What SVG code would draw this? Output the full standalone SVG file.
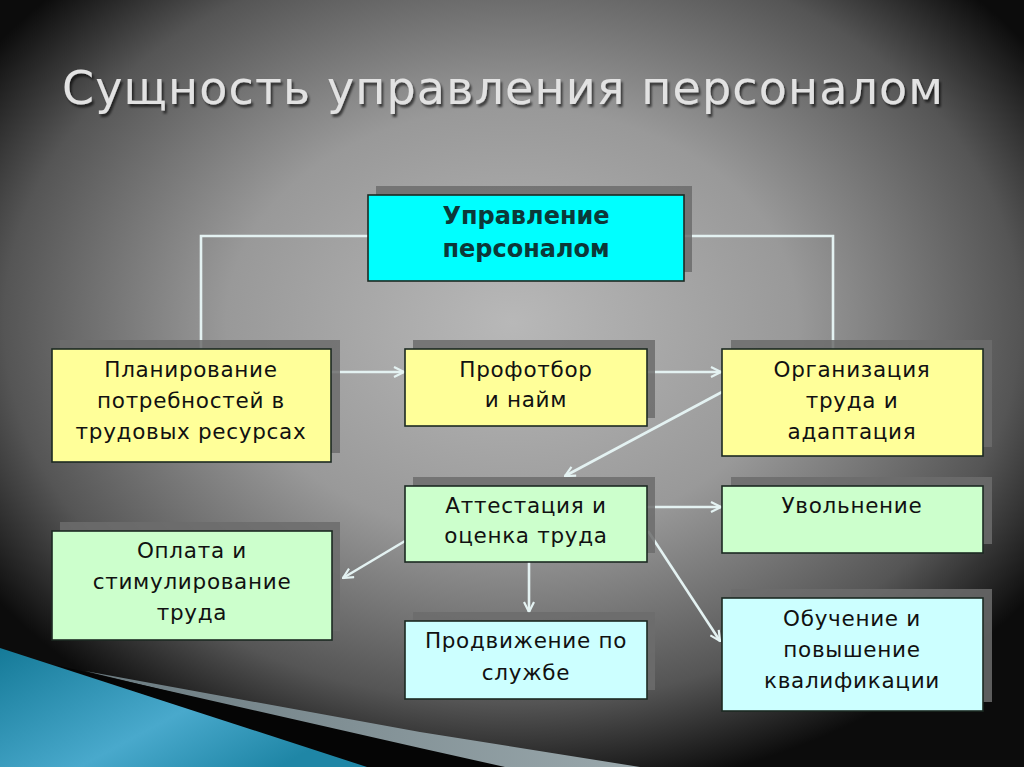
<svg xmlns="http://www.w3.org/2000/svg" width="1024" height="767" viewBox="0 0 1024 767">
<defs>
<radialGradient id="bg" cx="0.5" cy="0.42" r="0.62">
<stop offset="0" stop-color="#b8b8b8"/>
<stop offset="0.45" stop-color="#999"/>
<stop offset="0.8" stop-color="#555"/>
<stop offset="1" stop-color="#0c0c0c"/>
</radialGradient>
<linearGradient id="teal" x1="0" y1="0" x2="1" y2="0.6">
<stop offset="0" stop-color="#157a98"/>
<stop offset="0.6" stop-color="#49a9cc"/>
<stop offset="1" stop-color="#1f86a6"/>
</linearGradient>
<linearGradient id="band" x1="0" y1="0" x2="1" y2="0">
<stop offset="0" stop-color="#6a7a80"/>
<stop offset="1" stop-color="#9aa8ac"/>
</linearGradient>
<filter id="ts" x="-5%" y="-20%" width="110%" height="150%">
<feDropShadow dx="2" dy="3" stdDeviation="1.2" flood-color="#000" flood-opacity="0.6"/>
</filter>
<marker id="ar" viewBox="0 0 12 12" refX="11" refY="6" markerWidth="12" markerHeight="12" markerUnits="userSpaceOnUse" orient="auto">
<polyline points="1,1 11,6 1,11" fill="none" stroke="#e4f2f2" stroke-width="2.2"/>
</marker>
<style>
.sh{fill:#6c6c6c;opacity:0.85}
.bx{stroke:#1c2a22;stroke-width:1.6}
.y{fill:#ffff99}.g{fill:#ccffcc}.c{fill:#ccffff}.cy{fill:#00ffff}
.t{font-family:"DejaVu Sans","Liberation Sans",sans-serif;font-size:21.5px;fill:#111;text-anchor:middle;letter-spacing:0.7px}
.tb{font-family:"DejaVu Sans","Liberation Sans",sans-serif;font-size:24px;font-weight:bold;fill:#0c3838;text-anchor:middle}
.ln{fill:none;stroke:#e4f2f2;stroke-width:2.6}
.title{font-family:"DejaVu Sans","Liberation Sans",sans-serif;font-size:46px;fill:#e2e2e2;letter-spacing:1px}
</style>
</defs>
<rect width="1024" height="767" fill="url(#bg)"/>
<polygon points="85,671 420,732 640,767 480,767" fill="url(#band)"/>
<polygon points="55,665 420,748 505,767 360,767" fill="#050505"/>
<polygon points="0,648 367,767 0,767" fill="url(#teal)"/>
<text class="title" x="62" y="104" textLength="882" filter="url(#ts)">Сущность управления персоналом</text>

<g id="connectors">
<polyline class="ln" points="368,236 201,236 201,349"/>
<polyline class="ln" points="684,236 833,236 833,349"/>
<line class="ln" x1="331" y1="372" x2="404" y2="372" marker-end="url(#ar)"/>
<line class="ln" x1="647" y1="372" x2="721" y2="372" marker-end="url(#ar)"/>
<line class="ln" x1="722" y1="392" x2="565" y2="476" marker-end="url(#ar)"/>
<line class="ln" x1="405" y1="541" x2="343" y2="578" marker-end="url(#ar)"/>
<line class="ln" x1="647" y1="507" x2="721" y2="507" marker-end="url(#ar)"/>
<line class="ln" x1="529" y1="562" x2="529" y2="612" marker-end="url(#ar)"/>
<line class="ln" x1="648" y1="531" x2="720" y2="641" marker-end="url(#ar)"/>
</g>

<g id="n-upr">
<rect class="sh" x="376" y="186" width="316" height="86"/>
<rect class="bx cy" x="368" y="195" width="316" height="86"/>
<text class="tb" x="526" y="224">Управление</text>
<text class="tb" x="526" y="257">персоналом</text>
</g>
<g id="n-plan">
<rect class="sh" x="60" y="340" width="280" height="113"/>
<rect class="bx y" x="52" y="349" width="279" height="113"/>
<text class="t" x="191" y="377">Планирование</text>
<text class="t" x="191" y="408">потребностей в</text>
<text class="t" x="191" y="439">трудовых ресурсах</text>
</g>
<g id="n-prof">
<rect class="sh" x="413" y="340" width="242" height="78"/>
<rect class="bx y" x="405" y="349" width="242" height="77"/>
<text class="t" x="526" y="377">Профотбор</text>
<text class="t" x="526" y="407">и найм</text>
</g>
<g id="n-org">
<rect class="sh" x="731" y="340" width="261" height="107"/>
<rect class="bx y" x="722" y="349" width="261" height="107"/>
<text class="t" x="852" y="377">Организация</text>
<text class="t" x="852" y="408">труда и</text>
<text class="t" x="852" y="439">адаптация</text>
</g>
<g id="n-att">
<rect class="sh" x="413" y="477" width="242" height="76"/>
<rect class="bx g" x="405" y="486" width="242" height="76"/>
<text class="t" x="526" y="513">Аттестация и</text>
<text class="t" x="526" y="543">оценка труда</text>
</g>
<g id="n-uvol">
<rect class="sh" x="731" y="477" width="261" height="67"/>
<rect class="bx g" x="722" y="486" width="261" height="67"/>
<text class="t" x="852" y="513">Увольнение</text>
</g>
<g id="n-opl">
<rect class="sh" x="60" y="522" width="280" height="109"/>
<rect class="bx g" x="52" y="531" width="280" height="109"/>
<text class="t" x="192" y="558">Оплата и</text>
<text class="t" x="192" y="589">стимулирование</text>
<text class="t" x="192" y="620">труда</text>
</g>
<g id="n-prod">
<rect class="sh" x="413" y="612" width="242" height="78"/>
<rect class="bx c" x="405" y="621" width="242" height="78"/>
<text class="t" x="526" y="648">Продвижение по</text>
<text class="t" x="526" y="680">службе</text>
</g>
<g id="n-obuch">
<rect class="sh" x="731" y="589" width="261" height="113"/>
<rect class="bx c" x="722" y="598" width="261" height="113"/>
<text class="t" x="852" y="626">Обучение и</text>
<text class="t" x="852" y="657">повышение</text>
<text class="t" x="852" y="688">квалификации</text>
</g>
</svg>
